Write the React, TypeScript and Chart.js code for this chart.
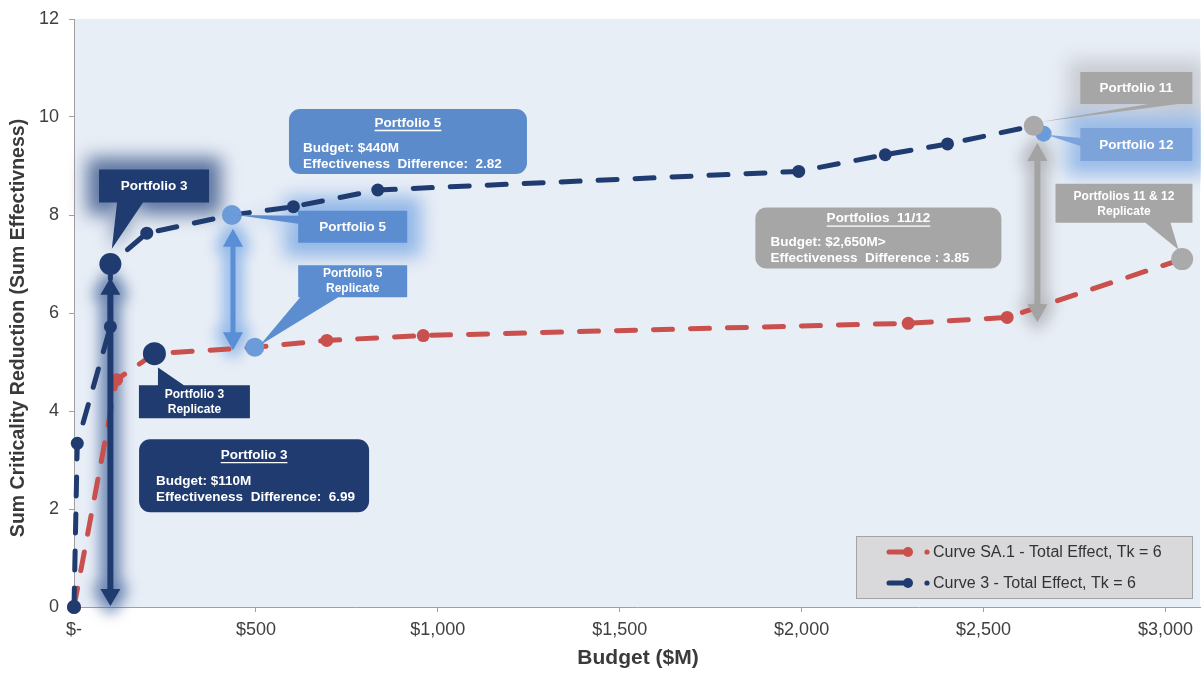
import React, { useEffect, useRef } from "react";
import { Chart, registerables } from "chart.js";

Chart.register(...registerables);

// ---------------- data ----------------
const redLabel = "Curve SA.1 - Total Effect, Tk = 6";
const blueLabel = "Curve 3 - Total Effect, Tk = 6";

const redBudget = [0, 117, 221, 497, 695, 960, 2293, 2565, 3046];
const redEffect = [0, 4.64, 5.17, 5.3, 5.44, 5.54, 5.79, 5.91, 7.1];

const blueBudget = [0, 9, 100, 100, 200, 434, 603, 835, 1992, 2230, 2401, 2638];
const blueEffect = [0, 3.34, 5.72, 7.0, 7.63, 8.0, 8.17, 8.51, 8.89, 9.23, 9.45, 9.82];

const p12Budget = [2665];
const p12Effect = [9.66];

const xTickValues = [0, 500, 1000, 1500, 2000, 2500, 3000];
const yTickValues = [0, 2, 4, 6, 8, 10, 12];

const xTitle = "Budget ($M)";
const yTitle = "Sum Criticality Reduction (Sum Effectivness)";

// ---------------- styles ----------------
const FONT = '"Liberation Sans", Arial, Helvetica, sans-serif';
const RED = "#C9504C";
const NAVY = "#1F3B70";
const LIGHT = "#5B8DD0";
const LIGHT_PT = "#6B9BD8";
const GRAY = "#A6A6A6";
const GRAY_PT = "#AAAAAA";
const P12_BOX = "#7CA4DA";
const PLOT_BG = "#E8EEF6";
const AXIS = "#A0A0A0";
const TEXT = "#404040";

const redSpecial: Record<number, { c: string; r: number }> = {
  0: { c: RED, r: 7 },
  2: { c: NAVY, r: 11.5 },
  3: { c: LIGHT_PT, r: 9.5 },
  8: { c: GRAY_PT, r: 11 },
};
const blueSpecial: Record<number, { c: string; r: number }> = {
  0: { c: NAVY, r: 7 },
  3: { c: NAVY, r: 11 },
  5: { c: LIGHT_PT, r: 10 },
  11: { c: GRAY_PT, r: 10 },
};

// ---------------- annotations (anchored in data units) ----------------
type Callout = {
  lines: string[];
  cx: number;
  cy: number;
  w: number;
  h: number;
  fill: string;
  size: number;
  glow?: string;
  glowSpread?: number;
  tip: [number, number];
  base: [[number, number], [number, number]];
};

const callouts: Callout[] = [
  { lines: ["Portfolio 3"], cx: 220, cy: 8.59, w: 110, h: 33, fill: NAVY, size: 13.5, glow: "rgba(45,75,130,0.75)", glowSpread: 12, tip: [104, 7.31], base: [[-37, 16.5], [-11, 16.5]] },
  { lines: ["Portfolio 5"], cx: 766, cy: 7.76, w: 109, h: 32, fill: LIGHT, size: 13.5, glow: "rgba(110,160,225,0.7)", glowSpread: 14, tip: [445, 8.0], base: [[-54.5, -11], [-54.5, -3]] },
  { lines: ["Portfolio 5", "Replicate"], cx: 766, cy: 6.65, w: 109, h: 32, fill: LIGHT, size: 12, tip: [511, 5.34], base: [[-52.5, 16], [-14.5, 16]] },
  { lines: ["Portfolio 3", "Replicate"], cx: 331, cy: 4.19, w: 111, h: 33, fill: NAVY, size: 12, tip: [231, 4.89], base: [[-36.5, -16.5], [-10.5, -16.5]] },
  { lines: ["Portfolio 11"], cx: 2920, cy: 10.59, w: 112, h: 32, fill: GRAY, size: 13.5, glow: "rgba(180,180,185,0.6)", glowSpread: 12, tip: [2656, 9.9], base: [[12, 16], [42, 16]] },
  { lines: ["Portfolio 12"], cx: 2920, cy: 9.44, w: 112, h: 33, fill: P12_BOX, size: 13.5, glow: "rgba(120,165,225,0.7)", glowSpread: 14, tip: [2673, 9.64], base: [[-56, -6.5], [-56, 1.5]] },
  { lines: ["Portfolios 11 & 12", "Replicate"], cx: 2886, cy: 8.24, w: 137, h: 39, fill: GRAY, size: 12, tip: [3036, 7.29], base: [[21.5, 19.5], [46.5, 19.5]] },
];

type InfoBox = {
  title: string;
  body: string[];
  cx: number;
  cy: number;
  w: number;
  h: number;
  fill: string;
  pad: number;
  rows: number[];
};

const infoBoxes: InfoBox[] = [
  { title: "Portfolio 3", body: ["Budget: $110M", "Effectiveness  Difference:  6.99"], cx: 495, cy: 2.68, w: 230, h: 73, fill: NAVY, pad: 17, rows: [16, 42, 58] },
  { title: "Portfolio 5", body: ["Budget: $440M", "Effectiveness  Difference:  2.82"], cx: 918, cy: 9.5, w: 238, h: 65, fill: "#5B8BCB", pad: 14, rows: [14, 39, 55] },
  { title: "Portfolios  11/12", body: ["Budget: $2,650M>", "Effectiveness  Difference : 3.85"], cx: 2211, cy: 7.53, w: 246, h: 61, fill: GRAY, pad: 15, rows: [11, 35, 51] },
];

type Arrow = { x: number; top: number; bottom: number; color: string; glow: string; shaft: number; headW: number; headL: number };
const arrows: Arrow[] = [
  { x: 100, top: 6.72, bottom: 0.02, color: NAVY, glow: "rgba(50,85,145,0.55)", shaft: 6, headW: 20, headL: 17 },
  { x: 437, top: 7.72, bottom: 5.24, color: "#5B8FD5", glow: "rgba(110,160,225,0.55)", shaft: 5, headW: 20, headL: 18 },
  { x: 2648, top: 9.47, bottom: 5.81, color: "#A3A3A3", glow: "rgba(160,160,165,0.5)", shaft: 6, headW: 20, headL: 18 },
];

// ---------------- helpers ----------------
function roundRectPath(ctx: CanvasRenderingContext2D, x: number, y: number, w: number, h: number, r: number) {
  ctx.beginPath();
  ctx.moveTo(x + r, y);
  ctx.arcTo(x + w, y, x + w, y + h, r);
  ctx.arcTo(x + w, y + h, x, y + h, r);
  ctx.arcTo(x, y + h, x, y, r);
  ctx.arcTo(x, y, x + w, y, r);
  ctx.closePath();
}

function calloutPath(chart: any, ctx: CanvasRenderingContext2D, c: Callout, grow = 0) {
  const xs = chart.scales.x;
  const ys = chart.scales.y;
  const cx = xs.getPixelForValue(c.cx);
  const cy = ys.getPixelForValue(c.cy);
  const tx = xs.getPixelForValue(c.tip[0]);
  const ty = ys.getPixelForValue(c.tip[1]);
  ctx.beginPath();
  ctx.rect(cx - c.w / 2 - grow, cy - c.h / 2 - grow, c.w + 2 * grow, c.h + 2 * grow);
  ctx.moveTo(cx + c.base[0][0], cy + c.base[0][1]);
  ctx.lineTo(tx, ty);
  ctx.lineTo(cx + c.base[1][0], cy + c.base[1][1]);
  ctx.closePath();
  return { cx, cy };
}

function arrowPath(chart: any, ctx: CanvasRenderingContext2D, a: Arrow) {
  const x = chart.scales.x.getPixelForValue(a.x);
  const yT = chart.scales.y.getPixelForValue(a.top);
  const yB = chart.scales.y.getPixelForValue(a.bottom);
  const s = a.shaft / 2;
  const h = a.headW / 2;
  ctx.beginPath();
  ctx.moveTo(x, yT);
  ctx.lineTo(x + h, yT + a.headL);
  ctx.lineTo(x + s, yT + a.headL);
  ctx.lineTo(x + s, yB - a.headL);
  ctx.lineTo(x + h, yB - a.headL);
  ctx.lineTo(x, yB);
  ctx.lineTo(x - h, yB - a.headL);
  ctx.lineTo(x - s, yB - a.headL);
  ctx.lineTo(x - s, yT + a.headL);
  ctx.lineTo(x - h, yT + a.headL);
  ctx.closePath();
}

const annotationPlugin = {
  id: "annotationsAndBackground",
  beforeDraw(chart: any) {
    const { ctx, chartArea } = chart;
    ctx.save();
    ctx.fillStyle = "#FFFFFF";
    ctx.fillRect(0, 0, chart.width, chart.height);
    ctx.fillStyle = PLOT_BG;
    ctx.fillRect(chartArea.left, chartArea.top, chartArea.right - chartArea.left, chartArea.bottom - chartArea.top);
    ctx.restore();
  },
  beforeDatasetsDraw(chart: any) {
    const ctx: CanvasRenderingContext2D = chart.ctx;
    for (const a of arrows) {
      ctx.save();
      ctx.filter = "blur(7px)";
      ctx.fillStyle = a.glow;
      ctx.strokeStyle = a.glow;
      ctx.lineWidth = 16;
      ctx.lineJoin = "round";
      arrowPath(chart, ctx, a);
      ctx.fill();
      ctx.stroke();
      ctx.restore();
    }
    for (const c of callouts) {
      if (!c.glow) continue;
      ctx.save();
      ctx.filter = "blur(9px)";
      ctx.fillStyle = c.glow;
      calloutPath(chart, ctx, c, c.glowSpread || 10);
      ctx.fill();
      ctx.restore();
    }
  },
  afterDatasetsDraw(chart: any) {
    const ctx: CanvasRenderingContext2D = chart.ctx;
    const xs = chart.scales.x;
    const ys = chart.scales.y;
    for (const a of arrows) {
      ctx.save();
      ctx.fillStyle = a.color;
      arrowPath(chart, ctx, a);
      ctx.fill();
      ctx.restore();
    }
    for (const c of callouts) {
      ctx.save();
      ctx.fillStyle = c.fill;
      const { cx, cy } = calloutPath(chart, ctx, c);
      ctx.fill();
      ctx.fillStyle = "#FFFFFF";
      ctx.font = `bold ${c.size}px ${FONT}`;
      ctx.textAlign = "center";
      ctx.textBaseline = "middle";
      const lh = 15;
      const n = c.lines.length;
      c.lines.forEach((t, i) => {
        ctx.fillText(t, cx, cy + (i - (n - 1) / 2) * lh + 0.5);
      });
      ctx.restore();
    }
    for (const b of infoBoxes) {
      const cx = xs.getPixelForValue(b.cx);
      const cy = ys.getPixelForValue(b.cy);
      const x0 = cx - b.w / 2;
      const y0 = cy - b.h / 2;
      ctx.save();
      ctx.fillStyle = b.fill;
      roundRectPath(ctx, x0, y0, b.w, b.h, 11);
      ctx.fill();
      ctx.fillStyle = "#FFFFFF";
      ctx.strokeStyle = "#FFFFFF";
      ctx.font = `bold 13.5px ${FONT}`;
      ctx.textBaseline = "middle";
      ctx.textAlign = "center";
      ctx.fillText(b.title, cx, y0 + b.rows[0]);
      const tw = ctx.measureText(b.title).width;
      ctx.lineWidth = 1.3;
      ctx.beginPath();
      ctx.moveTo(cx - tw / 2, y0 + b.rows[0] + 7.5);
      ctx.lineTo(cx + tw / 2, y0 + b.rows[0] + 7.5);
      ctx.stroke();
      ctx.textAlign = "left";
      b.body.forEach((t, i) => ctx.fillText(t, x0 + b.pad, y0 + b.rows[i + 1]));
      ctx.restore();
    }
  },
  afterDraw(chart: any) {
    const ctx: CanvasRenderingContext2D = chart.ctx;
    const { chartArea } = chart;
    ctx.save();
    ctx.fillStyle = "#3A3A3A";
    ctx.font = `bold 21px ${FONT}`;
    ctx.textAlign = "center";
    ctx.textBaseline = "middle";
    ctx.fillText(xTitle, (chartArea.left + chartArea.right) / 2 + 1, 658);
    ctx.save();
    ctx.translate(19, 328);
    ctx.rotate(-Math.PI / 2);
    ctx.font = `bold 19.5px ${FONT}`;
    ctx.fillText(yTitle, 0, 0);
    ctx.restore();

    // legend
    const lw = 337;
    const lhgt = 63;
    const lx = chartArea.right - 7 - lw;
    const ly = chartArea.bottom - 8 - lhgt;
    ctx.fillStyle = "#D9D9DB";
    ctx.fillRect(lx, ly, lw, lhgt);
    ctx.strokeStyle = "#A3A3A3";
    ctx.lineWidth = 1;
    ctx.strokeRect(lx + 0.5, ly + 0.5, lw - 1, lhgt - 1);
    const entries = [
      { label: chart.data.datasets[1].label, color: RED },
      { label: chart.data.datasets[0].label, color: NAVY },
    ];
    entries.forEach((e, i) => {
      const y = ly + 16 + i * 31;
      ctx.strokeStyle = e.color;
      ctx.lineWidth = 5;
      ctx.lineCap = "round";
      ctx.beginPath();
      ctx.moveTo(lx + 33, y);
      ctx.lineTo(lx + 50, y);
      ctx.stroke();
      ctx.fillStyle = e.color;
      ctx.beginPath();
      ctx.arc(lx + 52, y, 5, 0, Math.PI * 2);
      ctx.fill();
      ctx.beginPath();
      ctx.arc(lx + 71, y, 2.6, 0, Math.PI * 2);
      ctx.fill();
      ctx.fillStyle = "#333333";
      ctx.font = `16px ${FONT}`;
      ctx.textAlign = "left";
      ctx.textBaseline = "middle";
      ctx.fillText(e.label, lx + 77, y + 0.5);
    });
    ctx.restore();
  },
};

function styleArrays(n: number, special: Record<number, { c: string; r: number }>, color: string, r: number) {
  const colors: string[] = [];
  const radii: number[] = [];
  for (let i = 0; i < n; i++) {
    colors.push(special[i] ? special[i].c : color);
    radii.push(special[i] ? special[i].r : r);
  }
  return { colors, radii };
}

export default function App() {
  const ref = useRef<HTMLCanvasElement>(null);

  useEffect(() => {
    document.body.style.margin = "0";
    const canvas = ref.current;
    if (!canvas) return;
    const blueStyle = styleArrays(blueBudget.length, blueSpecial, NAVY, 6.5);
    const redStyle = styleArrays(redBudget.length, redSpecial, RED, 6.5);

    const tickFont = { family: FONT, size: 18 };

    const chart = new Chart(canvas, {
      type: "line",
      data: {
        datasets: [
          {
            label: blueLabel,
            data: blueBudget.map((x, i) => ({ x, y: blueEffect[i] })),
            borderColor: NAVY,
            backgroundColor: NAVY,
            borderWidth: 5,
            borderDash: [19, 18],
            borderCapStyle: "round",
            pointRadius: blueStyle.radii,
            pointBackgroundColor: blueStyle.colors,
            pointBorderColor: blueStyle.colors,
            pointBorderWidth: 0,
            fill: false,
            tension: 0,
            order: 0,
          } as any,
          {
            label: redLabel,
            data: redBudget.map((x, i) => ({ x, y: redEffect[i] })),
            borderColor: RED,
            backgroundColor: RED,
            borderWidth: 5,
            borderDash: [19, 18],
            borderCapStyle: "round",
            pointRadius: redStyle.radii,
            pointBackgroundColor: redStyle.colors,
            pointBorderColor: redStyle.colors,
            pointBorderWidth: 0,
            fill: false,
            tension: 0,
            order: 1,
          } as any,
          {
            label: "Portfolio 12",
            data: p12Budget.map((x, i) => ({ x, y: p12Effect[i] })),
            showLine: false,
            pointRadius: 8,
            pointBackgroundColor: LIGHT_PT,
            pointBorderWidth: 0,
            order: 2,
          } as any,
        ],
      },
      options: {
        animation: false,
        responsive: false,
        devicePixelRatio: 1,
        clip: false,
        layout: { autoPadding: false, padding: { top: 19, right: 1, left: 0, bottom: 0 } },
        plugins: { legend: { display: false }, tooltip: { enabled: false } },
        scales: {
          x: {
            type: "linear",
            min: 0,
            max: 3095,
            afterBuildTicks: (s: any) => {
              s.ticks = xTickValues.map((v) => ({ value: v }));
            },
            afterFit: (s: any) => {
              s.height = 66;
              s.paddingLeft = 0;
              s.paddingRight = 0;
            },
            ticks: {
              callback: (v: any) => (Number(v) === 0 ? "$-" : "$" + Number(v).toLocaleString("en-US")),
              font: tickFont,
              color: TEXT,
              padding: 7,
              maxRotation: 0,
              autoSkip: false,
            },
            grid: { drawOnChartArea: false, tickLength: 5, color: AXIS },
            border: { color: AXIS, width: 1 },
          },
          y: {
            type: "linear",
            min: 0,
            max: 12,
            afterBuildTicks: (s: any) => {
              s.ticks = yTickValues.map((v) => ({ value: v }));
            },
            afterFit: (s: any) => {
              s.width = 74;
              s.paddingTop = 0;
              s.paddingBottom = 0;
            },
            ticks: { font: tickFont, color: TEXT, padding: 10 },
            grid: { drawOnChartArea: false, tickLength: 5, color: AXIS },
            border: { color: AXIS, width: 1 },
          },
        },
      } as any,
      plugins: [annotationPlugin],
    });
    return () => chart.destroy();
  }, []);

  return <canvas ref={ref} width={1201} height={673} style={{ display: "block" }} />;
}
